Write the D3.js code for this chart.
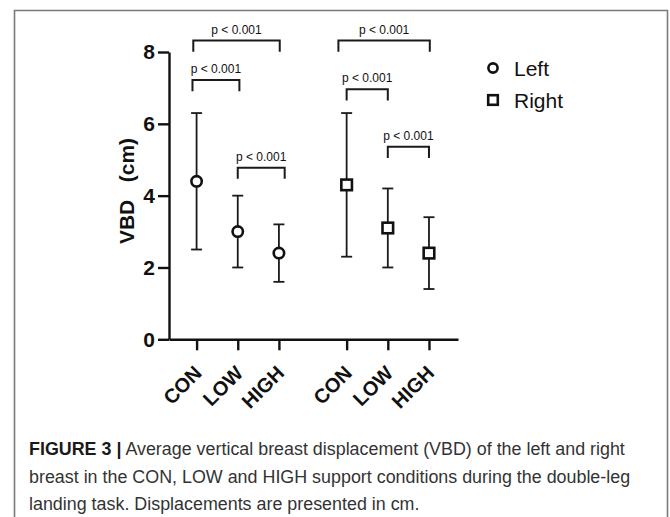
<!DOCTYPE html>
<html>
<meta charset="utf-8">
<style>
    body { margin: 0; background: #fff; }
    svg { display: block; background: #fff; }
    text { font-family: 'Liberation Sans', Arial, sans-serif; }
    .axis text { font-size: 21px; font-weight: bold; fill: #111; }
    .axis path, .axis line { stroke: #111; stroke-width: 2.4px; }
</style>
<body>
  <svg width="670" height="517"></svg>

  <script src="https://d3js.org/d3.v7.min.js"></script>
  <script>
    // ---- data ----
    let conditions = ["CON", "LOW", "HIGH"];
    let sides = ["Left", "Right"];
    let meanLeft  = [4.4, 3.0, 2.4];
    let lowLeft   = [2.5, 2.0, 1.6];
    let highLeft  = [6.3, 4.0, 3.2];
    let meanRight = [4.3, 3.1, 2.4];
    let lowRight  = [2.3, 2.0, 1.4];
    let highRight = [6.3, 4.2, 3.4];
    let yTicks = [0, 2, 4, 6, 8];
    // significance brackets: side, from/to condition index, level (cm), nudges (slot units)
    let brackets = [
      {side: 0, from: 0, to: 2, level: 8.32, n1: -0.08, n2: 0.02},
      {side: 0, from: 0, to: 1, level: 7.22, n1: -0.10, n2: 0.04},
      {side: 0, from: 1, to: 2, level: 4.78, n1: 0.0,  n2: 0.14},
      {side: 1, from: 0, to: 2, level: 8.32, n1: -0.2, n2: 0.02},
      {side: 1, from: 0, to: 1, level: 6.96, n1: 0.0,  n2: 0.0},
      {side: 1, from: 1, to: 2, level: 5.36, n1: 0.0,  n2: 0.0}
    ];
    let bracketLabel = "p < 0.001";

    let svg = d3.select("svg");

    // frame around the figure
    svg.append("path")
       .attr("d", "M14.5,530 V10.5 H667.5 V530")
       .style("fill", "none").style("stroke", "#7a7a7a").style("stroke-width", 1.6);

    let groupGap = 0.645;
    function slot(side, i) { return side * (conditions.length + groupGap) + i; }

    let xScale = d3.scaleLinear().domain([-0.67, 6.35]).range([169, 458]);
    let yScale = d3.scaleLinear().domain([0, 8]).range([339.3, 52]);

    // y axis
    svg.append("g").attr("class", "axis")
       .attr("transform", "translate(169,0)")
       .call(d3.axisLeft(yScale).tickValues(yTicks).tickSize(11).tickSizeOuter(0).tickPadding(3));

    // x axis
    let tickVals = [], tickLabs = [];
    sides.forEach((s, si) => conditions.forEach((c, ci) => { tickVals.push(slot(si, ci)); tickLabs.push(c); }));
    let xAxis = svg.append("g").attr("class", "axis")
       .attr("transform", "translate(0," + yScale(0) + ")")
       .call(d3.axisBottom(xScale).tickValues(tickVals).tickSize(11).tickSizeOuter(0)
             .tickFormat((d, i) => tickLabs[i]));
    xAxis.selectAll("text")
       .attr("x", 0).attr("y", 0).attr("dy", 0)
       .attr("text-anchor", "end")
       .style("font-size", "20px")
       .attr("transform", "translate(6,35) rotate(-45)");

    // y axis title
    svg.append("text")
       .attr("transform", "translate(134,191) rotate(-90)")
       .attr("text-anchor", "middle")
       .style("font-size", "21px").style("font-weight", "bold").style("fill", "#111")
       .style("white-space", "pre")
       .text("VBD   (cm)");

    // error bars + markers
    let series = [
      {mean: meanLeft, lo: lowLeft, hi: highLeft},
      {mean: meanRight, lo: lowRight, hi: highRight}
    ];
    let points = [];
    series.forEach((s, si) => s.mean.forEach((m, ci) => {
      points.push({side: si, x: xScale(slot(si, ci)), m: m, lo: s.lo[ci], hi: s.hi[ci]});
    }));

    let bars = svg.append("g").style("stroke", "#1a1a1a").style("stroke-width", 1.8).style("fill", "none");
    bars.selectAll(".stem").data(points).join("line")
        .attr("x1", d => d.x).attr("x2", d => d.x)
        .attr("y1", d => yScale(d.lo)).attr("y2", d => yScale(d.hi));
    bars.selectAll(".capHi").data(points).join("line")
        .attr("x1", d => d.x - 5.5).attr("x2", d => d.x + 5.5)
        .attr("y1", d => yScale(d.hi)).attr("y2", d => yScale(d.hi));
    bars.selectAll(".capLo").data(points).join("line")
        .attr("x1", d => d.x - 5.5).attr("x2", d => d.x + 5.5)
        .attr("y1", d => yScale(d.lo)).attr("y2", d => yScale(d.lo));

    let marks = svg.append("g").style("stroke", "#111").style("stroke-width", 2.6).style("fill", "#fff");
    marks.selectAll("circle").data(points.filter(d => d.side == 0)).join("circle")
        .attr("cx", d => d.x).attr("cy", d => yScale(d.m)).attr("r", 5.2);
    marks.selectAll("rect").data(points.filter(d => d.side == 1)).join("rect")
        .attr("x", d => d.x - 5.3).attr("y", d => yScale(d.m) - 5.3)
        .attr("width", 10.6).attr("height", 10.6);

    // significance brackets
    let legPx = yScale(0) - yScale(0.31);
    let br = svg.append("g");
    brackets.forEach(b => {
      let x1 = xScale(slot(b.side, b.from) + b.n1), x2 = xScale(slot(b.side, b.to) + b.n2);
      let y = yScale(b.level);
      br.append("path")
        .attr("d", "M" + x1 + "," + (y + legPx) + " V" + y + " H" + x2 + " V" + (y + legPx))
        .style("fill", "none").style("stroke", "#1a1a1a").style("stroke-width", 2);
      br.append("text")
        .attr("x", (x1 + x2) / 2).attr("y", y - 7)
        .attr("text-anchor", "middle")
        .style("font-size", "12px").style("fill", "#111")
        .text(bracketLabel);
    });

    // legend
    let legend = svg.append("g").attr("transform", "translate(493,68)");
    legend.append("circle").attr("cx", 0).attr("cy", 0).attr("r", 4.6)
          .style("fill", "#fff").style("stroke", "#111").style("stroke-width", 2.6);
    legend.append("rect").attr("x", -4.8).attr("y", 32 - 4.8).attr("width", 9.6).attr("height", 9.6)
          .style("fill", "#fff").style("stroke", "#111").style("stroke-width", 2.6);
    legend.selectAll(".lab").data(sides).join("text")
          .attr("x", 21).attr("y", (d, i) => i * 32 + 7.5)
          .style("font-size", "21px").style("fill", "#111")
          .text(d => d);

    // caption
    let captionLines = [
      ["FIGURE 3 |", " Average vertical breast displacement (VBD) of the left and right"],
      ["", "breast in the CON, LOW and HIGH support conditions during the double-leg"],
      ["", "landing task. Displacements are presented in cm."]
    ];
    let cap = svg.append("g");
    let capTexts = captionLines.map((ln, i) => {
      let t = cap.append("text")
         .attr("x", 0).attr("y", 0)
         .style("font-size", "18.5px").style("fill", "#333")
         .style("white-space", "pre");
      if (ln[0]) t.append("tspan").style("font-weight", "bold").style("fill", "#1a1a1a").text(ln[0]);
      t.append("tspan").text(ln[1]);
      return t;
    });
    // line 1 in the reference runs to x = 625; squeeze all lines by the same factor
    let sx = (625 - 29) / capTexts[0].node().getComputedTextLength();
    capTexts.forEach((t, i) => t.attr("transform", "translate(29," + (455 + i * 27.5) + ") scale(" + sx + ",1)"));
  </script>
</body>
</html>
